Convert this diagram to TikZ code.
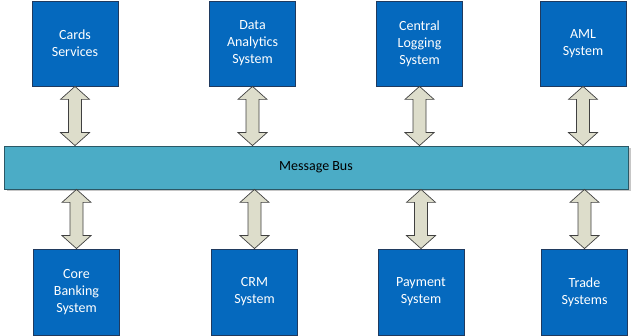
\documentclass[tikz,border=0pt]{standalone}
\usepackage{fontspec}
\setmainfont{Carlito}
\usetikzlibrary{shadows,calc}
\definecolor{boxblue}{HTML}{0569BE}
\definecolor{boxedge}{HTML}{1F3A5F}
\definecolor{busfill}{HTML}{4BACC6}
\definecolor{busedge}{HTML}{2B5866}
\definecolor{arrfill}{HTML}{DDDDCB}
\tikzset{
  sysbox/.style={draw=boxedge, fill=boxblue, line width=0.8pt, minimum width=86pt, minimum height=85pt, inner sep=0pt, text=white, align=center, font=\fontsize{14}{17}\selectfont},
  busbox/.style={draw=busedge, fill=busfill, line width=0.8pt, minimum width=624pt, minimum height=43pt, inner sep=0pt, font=\fontsize{14}{17}\selectfont, drop shadow={shadow xshift=2.5pt, shadow yshift=-2.5pt, opacity=0.45}},
  blockarrow/.style={draw=black!75, fill=arrfill, line width=0.7pt, line join=miter}
}
\newcommand\dblarrow[2]{%
  \path[blockarrow] let \p1=#1, \p2=#2 in
    (\x1,\y1) -- (\x1+14.5pt,\y1-13pt) -- (\x1+6.5pt,\y1-13pt) -- (\x1+6.5pt,\y2+13pt) -- (\x1+14.5pt,\y2+13pt)
    -- (\x1,\y2) -- (\x1-14.5pt,\y2+13pt) -- (\x1-6.5pt,\y2+13pt) -- (\x1-6.5pt,\y1-13pt) -- (\x1-14.5pt,\y1-13pt) -- cycle;}
\begin{document}
\begin{tikzpicture}[x=1pt,y=1pt]
\useasboundingbox (0,0) rectangle (640,336);
\node[busbox] (bus) at (316,168.5) {Message Bus};
\node[sysbox] (t1) at (75,292.5) {Cards\\Services};
\node[sysbox] (t2) at (252.5,292.5) {Data\\Analytics\\System};
\node[sysbox] (t3) at (419.5,292.5) {Central\\Logging\\System};
\node[sysbox] (t4) at (583,292.5) {AML\\System};
\node[sysbox, minimum height=86pt] (b1) at (76.5,44) {Core\\Banking\\System};
\node[sysbox, minimum height=86pt] (b2) at (254.5,44) {CRM\\System};
\node[sysbox, minimum height=86pt] (b3) at (421,44) {Payment\\System};
\node[sysbox, minimum height=86pt] (b4) at (584.5,44) {Trade\\Systems};
\dblarrow{(t1.south)}{(t1.south |- bus.north)}
\dblarrow{(t2.south)}{(t2.south |- bus.north)}
\dblarrow{(t3.south)}{(t3.south |- bus.north)}
\dblarrow{(t4.south)}{(t4.south |- bus.north)}
\dblarrow{(b1.north |- bus.south)}{(b1.north)}
\dblarrow{(b2.north |- bus.south)}{(b2.north)}
\dblarrow{(b3.north |- bus.south)}{(b3.north)}
\dblarrow{(b4.north |- bus.south)}{(b4.north)}
\end{tikzpicture}
\end{document}
